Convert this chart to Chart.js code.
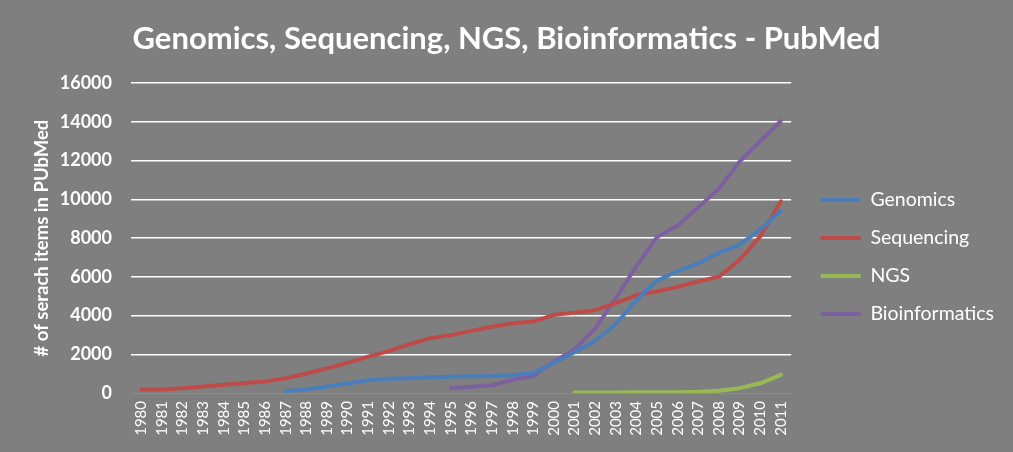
<!DOCTYPE html>
<html>
<head>
<meta charset="utf-8">
<script src="https://cdn.jsdelivr.net/npm/chart.js@4/dist/chart.umd.min.js"></script>
<style>
  html, body { margin: 0; padding: 0; background: #7f7f7f; }
  #wrap { width: 1013px; height: 452px; }
</style>
</head>
<body>
<div id="wrap"><canvas id="chart" width="1013" height="452"></canvas></div>
<script>
// anos (eixo x)
const years = ['1980','1981','1982','1983','1984','1985','1986','1987','1988','1989','1990',
  '1991','1992','1993','1994','1995','1996','1997','1998','1999','2000',
  '2001','2002','2003','2004','2005','2006','2007','2008','2009','2010','2011'];

// valores (null = sem dado)
const genomics = [null,null,null,null,null,null,null,100,180,340,490,
  660,730,760,810,840,860,880,930,1030,1550,
  2100,2700,3550,4800,5800,6300,6700,7250,7650,8450,9400];
const sequencing = [180,180,240,330,420,520,600,760,1010,1270,1560,
  1880,2170,2520,2830,2990,3210,3420,3600,3690,4040,
  4140,4280,4640,5060,5240,5480,5760,6010,6870,8080,9900];
const ngs = [null,null,null,null,null,null,null,null,null,null,null,
  null,null,null,null,null,null,null,null,null,null,
  30,30,30,35,40,45,60,120,250,500,940];
const bioinformatics = [null,null,null,null,null,null,null,null,null,null,null,
  null,null,null,null,240,320,400,680,880,1620,
  2250,3330,4900,6550,8050,8650,9600,10550,11950,13000,14050];

const yTicks = [0,2000,4000,6000,8000,10000,12000,14000,16000];

const FONT = 'Lato';

function serie(label, data, cor) {
    return {
        label: label,
        data: data,
        borderColor: cor,
        backgroundColor: cor,
        borderWidth: 4,
        borderCapStyle: 'round',
        borderJoinStyle: 'round',
        pointRadius: 0,
        pointHoverRadius: 0,
        tension: 0,
        fill: false
    };
}

// ajustes finos de posição da legenda e do título (como no Excel)
const layoutShift = {
    id: 'layoutShift',
    afterLayout(chart) {
        const lg = chart.legend;
        if (lg) {
            lg.left += 11; lg.right += 11;
            lg.top += 31; lg.bottom += 31;
        }
        const tb = chart.titleBlock;
        if (tb) { tb.left += 20; }
    }
};

const ctx = document.getElementById('chart').getContext('2d');
new Chart(ctx, {
    type: 'line',
    data: {
        labels: years,
        datasets: [
            serie('Genomics', genomics, '#4a7ebb'),
            serie('Sequencing', sequencing, '#be4b48'),
            serie('NGS', ngs, '#98b954'),
            serie('Bioinformatics', bioinformatics, '#7d60a0')
        ]
    },
    plugins: [layoutShift],
    options: {
        responsive: false,
        animation: false,
        layout: { padding: { left: 0, right: 20, top: 0, bottom: 0 } },
        scales: {
            x: {
                offset: true,
                grid: { display: false, drawTicks: false },
                border: { display: true, color: '#8c8c8c', width: 1 },
                ticks: {
                    color: '#ffffff',
                    font: { family: FONT, size: 15 },
                    minRotation: 90,
                    maxRotation: 90,
                    autoSkip: false,
                    padding: 8
                },
                afterFit: function(scale) { scale.height = 59; }
            },
            y: {
                min: 0,
                max: 16000,
                afterBuildTicks: function(scale) {
                    scale.ticks = yTicks.map(v => ({ value: v }));
                },
                grid: {
                    drawTicks: false,
                    lineWidth: 1.5,
                    color: function(c) { return c.tick && c.tick.value === 0 ? 'rgba(0,0,0,0)' : '#ffffff'; }
                },
                border: { display: false },
                ticks: {
                    color: '#ffffff',
                    font: { family: FONT, size: 18, weight: 'bold' },
                    padding: 19,
                    callback: function(v) { return String(v); }
                },
                title: {
                    display: true,
                    text: '# of serach items in PUbMed',
                    color: '#ffffff',
                    font: { family: FONT, size: 18.5, weight: 'bold' },
                    padding: { top: 31, bottom: 0 }
                },
                afterFit: function(scale) { scale.width = 131; }
            }
        },
        plugins: {
            title: {
                display: true,
                text: 'Genomics, Sequencing, NGS, Bioinformatics - PubMed',
                color: '#ffffff',
                font: { family: FONT, size: 31, weight: 'bold' },
                padding: { top: 20, bottom: 26 }
            },
            legend: {
                position: 'right',
                labels: {
                    color: '#ffffff',
                    font: { family: FONT, size: 19.5 },
                    usePointStyle: true,
                    pointStyle: 'line',
                    pointStyleWidth: 40,
                    padding: 18.5
                }
            },
            tooltip: { enabled: false }
        }
    }
});
</script>
</body>
</html>
